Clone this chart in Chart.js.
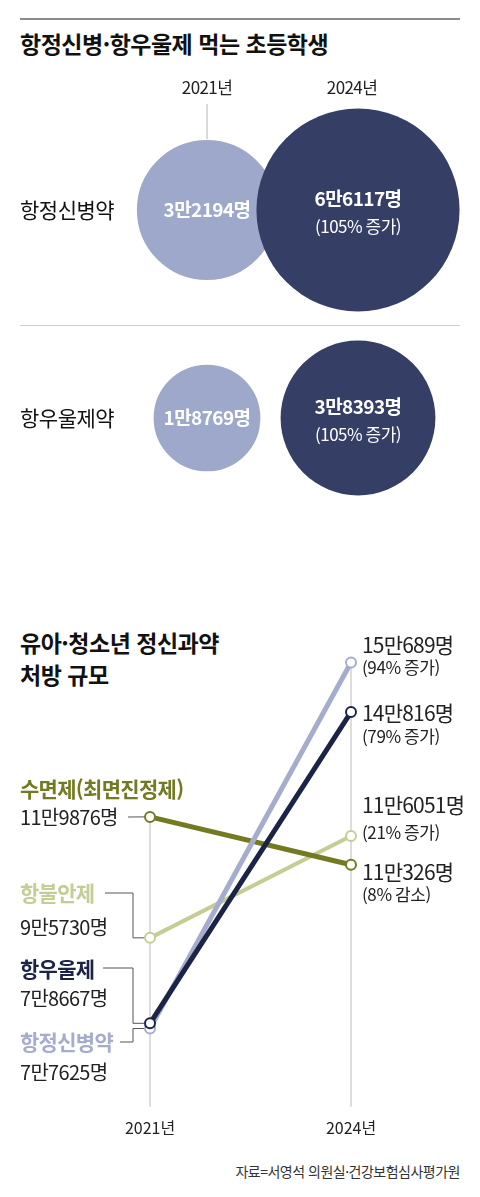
<!DOCTYPE html>
<html lang="ko">
<head>
<meta charset="utf-8">
<script src="https://cdn.jsdelivr.net/npm/chart.js@4"></script>
<style>
  html, body { margin: 0; padding: 0; background: #fff; }
  body { width: 480px; height: 1197px; position: relative; overflow: hidden;
         font-family: "Noto Sans CJK KR", "Noto Sans", sans-serif; color: #111; }
  .rule { position: absolute; left: 20px; width: 440px; }
  .title { position: absolute; left: 20px; font-weight: bold; font-size: 23px; letter-spacing: -0.5px; line-height: 32px; margin: 0; }
  .source { position: absolute; right: 20px; top: 1161px; font-size: 14px; color: #333; letter-spacing: -0.5px; }
  canvas { position: absolute; left: 0; }
</style>
</head>
<body>
<div class="rule" style="top:18px;height:2px;background:#8a8a8a"></div>
<h1 class="title" style="top:27px">항정신병·항우울제 먹는 초등학생</h1>
<div class="rule" style="top:325px;height:1px;background:#cfcfcf"></div>
<h2 class="title" style="top:626px">유아·청소년 정신과약<br>처방 규모</h2>
<div class="source">자료=서영석 의원실·건강보험심사평가원</div>

<div style="position:absolute;left:0;top:0;width:480px;height:560px"><canvas id="bubbleChart"></canvas></div>
<div style="position:absolute;left:0;top:560px;width:480px;height:637px"><canvas id="lineChart"></canvas></div>

<script>
// ----- 초등학생 (버블) -----
const bubbleYears = ['2021년', '2024년'];
const bubbleRows = ['항정신병약', '항우울제약'];
const bubble2021 = [32194, 18769];
const bubble2024 = [66117, 38393];
const bubbleChange = ['(105% 증가)', '(105% 증가)'];

// ----- 유아·청소년 (선) -----
const lineYears = ['2021년', '2024년'];
const seriesNames = ['항우울제', '항정신병약', '수면제(최면진정제)', '항불안제'];
const antidep = [78667, 140816];
const antipsy = [77625, 150689];
const sleep = [119876, 110326];
const anxiety = [95730, 116051];
const endNotes = ['(79% 증가)', '(94% 증가)', '(8% 감소)', '(21% 증가)'];

const FONT = '"Noto Sans CJK KR", "Noto Sans", sans-serif';
const LIGHT = '#9ea8cb', DARK = '#353f66';
const RADIUS_K = 0.395; // 면적 비례

function man(n) { // 77625 -> 7만7625명
  const m = Math.floor(n / 10000), r = n % 10000;
  return m + '만' + (r ? r : '') + '명';
}

function text(ctx, str, x, y, opt) {
  ctx.save();
  ctx.font = (opt.bold ? 'bold ' : '') + opt.size + 'px ' + FONT;
  ctx.fillStyle = opt.color || '#111';
  ctx.textAlign = opt.align || 'left';
  ctx.textBaseline = 'middle';
  ctx.letterSpacing = (opt.ls !== undefined ? opt.ls : -0.6) + 'px';
  ctx.fillText(str, x, y);
  ctx.restore();
}

const bubbleLabels = {
  id: 'bubbleLabels',
  afterDatasetsDraw(chart) {
    const ctx = chart.ctx;
    const xs = chart.scales.x, ys = chart.scales.y;
    const light = chart.getDatasetMeta(1).data;
    const dark = chart.getDatasetMeta(0).data;
    // 연도 머리글
    bubbleYears.forEach((y, i) => text(ctx, y, xs.getPixelForValue(i) - (i ? 6 : 0), 88, {size: 17, align: 'center', color: '#222', ls: -0.6}));
    // 2021년 연결선
    ctx.save();
    ctx.strokeStyle = '#b5b5b5'; ctx.lineWidth = 1;
    ctx.beginPath();
    ctx.moveTo(light[0].x, 104);
    ctx.lineTo(light[0].x, light[0].y - light[0].options.radius);
    ctx.stroke();
    ctx.restore();
    bubbleRows.forEach((name, i) => {
      text(ctx, name, 20, ys.getPixelForValue(i), {size: 21, color: '#111', ls: -0.5});
      text(ctx, man(bubble2021[i]), light[i].x, light[i].y, {size: 19, bold: true, color: '#fff', align: 'center', ls: -0.6});
      text(ctx, man(bubble2024[i]), dark[i].x, dark[i].y - 11, {size: 19, bold: true, color: '#fff', align: 'center', ls: -0.6});
      text(ctx, bubbleChange[i], dark[i].x, dark[i].y + 17, {size: 17, color: '#fff', align: 'center', ls: -0.5});
    });
  }
};

new Chart(document.getElementById('bubbleChart'), {
  type: 'bubble',
  data: {
    datasets: [
      { label: '2024년', data: bubble2024.map((v, i) => ({x: 1, y: i, r: RADIUS_K * Math.sqrt(v)})),
        backgroundColor: DARK, borderWidth: 0 },
      { label: '2021년', data: bubble2021.map((v, i) => ({x: 0, y: i, r: RADIUS_K * Math.sqrt(v)})),
        backgroundColor: LIGHT, borderColor: '#fff', borderWidth: 1.5 }
    ]
  },
  options: {
    responsive: true, maintainAspectRatio: false, animation: false,
    clip: false,
    layout: { padding: { left: 207, right: 122, top: 210, bottom: 142 } },
    scales: {
      x: { type: 'linear', min: 0, max: 1, display: false },
      y: { type: 'linear', min: 0, max: 1, reverse: true, display: false }
    },
    plugins: { legend: { display: false }, tooltip: { enabled: false } }
  },
  plugins: [bubbleLabels]
});

// ----- 선 차트 -----
const lineColors = ['#1b2447', '#a6adcc', '#737a22', '#c5cd94'];
const lineData = [antidep, antipsy, sleep, anxiety];

const gridFromTop = {
  id: 'gridFromTop',
  beforeDatasetsDraw(chart) {
    const ctx = chart.ctx, xs = chart.scales.x, ys = chart.scales.y;
    ctx.save();
    ctx.strokeStyle = '#d2d2d2'; ctx.lineWidth = 1.5;
    lineYears.forEach((_, i) => {
      const top = Math.max(...lineData.map(d => d[i]));
      const x = xs.getPixelForValue(i);
      ctx.beginPath();
      ctx.moveTo(x, ys.getPixelForValue(top));
      ctx.lineTo(x, chart.chartArea.bottom);
      ctx.stroke();
    });
    ctx.restore();
  },
  afterDatasetsDraw(chart) {
    const ctx = chart.ctx;
    const pt = (ds, i) => chart.getDatasetMeta(ds).data[i];
    const xL = 20, xR = 362;
    // 왼쪽 라벨: 이름 y, 값 y, 연결선 시작 x
    const left = [
      { ds: 0, ny: 409, vy: 438, lineX: 103, lineY: 408 },
      { ds: 1, ny: 482, vy: 512, lineX: 120, lineY: 482 },
      { ds: 2, ny: 229, vy: 257, lineX: 128, lineY: 257 },
      { ds: 3, ny: 333, vy: 367, lineX: 105, lineY: 333 }
    ];
    ctx.save();
    ctx.strokeStyle = '#555'; ctx.lineWidth = 1;
    left.forEach(l => {
      const p = pt(l.ds, 0);
      ctx.beginPath();
      ctx.moveTo(l.lineX, l.lineY);
      if (l.lineY !== Math.round(p.y)) {
        ctx.lineTo(133, l.lineY);
        ctx.lineTo(133, p.y);
      }
      ctx.lineTo(p.x - 6, p.y);
      ctx.stroke();
    });
    ctx.restore();
    left.forEach(l => {
      text(ctx, seriesNames[l.ds], xL, l.ny, {size: 21, bold: true, color: lineColors[l.ds], ls: -0.7});
      text(ctx, man(lineData[l.ds][0]), xL, l.vy, {size: 20, color: '#222', ls: -0.7});
    });
    // 오른쪽 라벨
    const right = [
      { ds: 1, vy: 85, ny: 108 },
      { ds: 0, vy: 153, ny: 177 },
      { ds: 3, vy: 245, ny: 273 },
      { ds: 2, vy: 312, ny: 335 }
    ];
    right.forEach(r => {
      text(ctx, man(lineData[r.ds][1]), xR, r.vy, {size: 21, color: '#222', ls: -0.8});
      text(ctx, endNotes[r.ds], xR, r.ny, {size: 17, color: '#222', ls: -0.4});
    });
  }
};

new Chart(document.getElementById('lineChart'), {
  type: 'line',
  data: {
    labels: lineYears,
    datasets: seriesNames.map((name, i) => ({
      label: name,
      data: lineData[i],
      borderColor: lineColors[i],
      borderWidth: i === 3 ? 4 : 5,
      pointRadius: 5,
      pointBorderWidth: 2,
      pointBackgroundColor: '#fff',
      pointBorderColor: lineColors[i],
      tension: 0
    }))
  },
  options: {
    responsive: true, maintainAspectRatio: false, animation: false,
    clip: false,
    layout: { padding: { left: 150, right: 129, top: 96, bottom: 47 } },
    scales: {
      x: {
        offset: false,
        grid: { display: false, drawTicks: false, tickLength: 0 },
        border: { display: false },
        ticks: { padding: 12, color: '#222', font: { family: FONT, size: 16 } }
      },
      y: { display: false, min: 62000, max: 152000 }
    },
    plugins: { legend: { display: false }, tooltip: { enabled: false } }
  },
  plugins: [gridFromTop]
});
</script>
</body>
</html>
